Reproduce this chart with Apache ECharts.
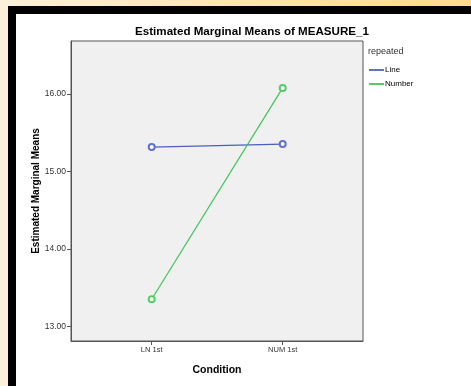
<!DOCTYPE html>
<html><head><meta charset="utf-8">
<script src="https://cdn.jsdelivr.net/npm/echarts@6/dist/echarts.min.js"></script>
<style>html,body{margin:0;padding:0;background:#fff}#c{width:471px;height:386px}</style>
</head><body><div id="c"></div>
<script>
const categories = ['LN 1st', 'NUM 1st'];
const seriesNames = ['Line', 'Number'];
const lineValues = [15.316, 15.355];
const numberValues = [13.354, 16.08];
const yTicks = [13, 14, 15, 16];

const chart = echarts.init(document.getElementById('c'));
const toPts = v => v.map((y, i) => [i, y]);
const font = 'Arial, "Liberation Sans", sans-serif';
chart.setOption({
  animation: false,
  backgroundColor: '#fff',
  graphic: [
    {type: 'rect', shape: {x: 0, y: 0, width: 471, height: 7}, style: {fill: new echarts.graphic.LinearGradient(0, 0, 1, 0, [{offset: 0, color: '#fdf0da'}, {offset: 1, color: '#fdda8c'}])}, silent: true},
    {type: 'rect', shape: {x: 0, y: 7, width: 8, height: 379}, style: {fill: '#fdf0da'}, silent: true},
    {type: 'rect', shape: {x: 8, y: 6, width: 463, height: 8}, style: {fill: '#000'}, silent: true},
    {type: 'rect', shape: {x: 8, y: 6, width: 8, height: 380}, style: {fill: '#000'}, silent: true},
    {type: 'text', left: 368, top: 47, style: {text: 'repeated', font: '9px ' + font, fill: '#333'}}
  ],
  title: {
    text: 'Estimated Marginal Means of MEASURE_1',
    left: 247, top: 21, textAlign: 'center',
    textStyle: {fontFamily: font, fontSize: 11.6, fontWeight: 'bold', color: '#000'}
  },
  legend: {
    orient: 'vertical', left: 364, top: 61, itemWidth: 15, itemHeight: 2, itemGap: 6,
    icon: 'rect', data: seriesNames,
    textStyle: {fontFamily: font, fontSize: 8, color: '#000', padding: [0, 0, 0, -4]}
  },
  grid: {left: 71, top: 41, width: 292, height: 300, show: true, backgroundColor: '#f0f0f0', borderColor: '#555', borderWidth: 1},
  xAxis: {
    type: 'value', min: -0.616, max: 1.613,
    name: 'Condition', nameLocation: 'middle', nameGap: 24, nameMoveOverlap: false,
    nameTextStyle: {fontFamily: font, fontSize: 10.5, fontWeight: 'bold', color: '#000'},
    axisLine: {show: true, onZero: false, lineStyle: {color: '#555'}},
    axisTick: {show: true, customValues: [0, 1], length: 4, lineStyle: {color: '#555'}},
    axisLabel: {customValues: [0, 1], formatter: v => categories[Math.round(v)], fontFamily: font, fontSize: 7.5, color: '#333', margin: 5},
    splitLine: {show: false}
  },
  yAxis: {
    type: 'value', min: 12.815, max: 16.685,
    name: 'Estimated Marginal Means', nameLocation: 'middle', nameGap: 30, nameMoveOverlap: false,
    nameTextStyle: {fontFamily: font, fontSize: 10, fontWeight: 'bold', color: '#000'},
    axisLine: {show: true, onZero: false, lineStyle: {color: '#555'}},
    axisTick: {show: true, customValues: yTicks, length: 4, lineStyle: {color: '#555'}},
    axisLabel: {customValues: yTicks, formatter: v => v.toFixed(2), fontFamily: font, fontSize: 8.5, color: '#333', margin: 5},
    splitLine: {show: false}
  },
  series: [
    {name: seriesNames[0], type: 'line', data: toPts(lineValues), symbol: 'emptyCircle', symbolSize: 6,
     lineStyle: {color: '#4a5fbf', width: 1.2}, itemStyle: {color: '#6072c8', borderWidth: 0.8}, color: '#7f8fd0'},
    {name: seriesNames[1], type: 'line', data: toPts(numberValues), symbol: 'emptyCircle', symbolSize: 6,
     lineStyle: {color: '#3cc457', width: 1.2}, itemStyle: {color: '#55cc6a', borderWidth: 0.8}, color: '#7fd88f'}
  ]
});
</script></body></html>
